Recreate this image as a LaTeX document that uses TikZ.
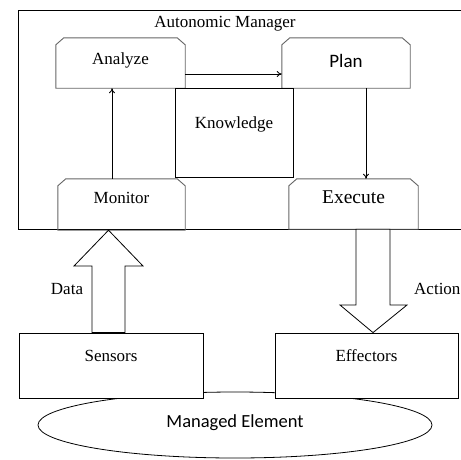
\documentclass[tikz,border=0pt]{standalone}
\usepackage{fontspec}
\setmainfont{Liberation Serif}
\newfontfamily\calfont{Carlito}
\usetikzlibrary{shapes.geometric, arrows.meta, positioning, calc}

% outline of a module box with cut top corners
\newcommand\chamfer[1]{%
  \draw[chline] (#1.south west) -- ([yshift=-7pt]#1.north west)
    -- ([xshift=8pt]#1.north west) -- ([xshift=-8pt]#1.north east)
    -- ([yshift=-7pt]#1.north east) -- (#1.south east) -- cycle;}

\tikzset{
  plainbox/.style={draw, line width=0.8pt, fill=white, inner sep=0pt, text height=12pt},
  chbox/.style={inner sep=0pt, minimum height=50pt, text height=12pt},
  chline/.style={draw=black!60, line width=0.9pt},
  conn/.style={-{To[length=5pt,width=6pt]}, line width=0.8pt},
  fat/.style={draw, line width=0.8pt, fill=white, line join=miter}
}

\begin{document}
\begin{tikzpicture}[x=1pt, y=-1pt, font=\fontsize{17}{20}\selectfont]
\clip (0,0) rectangle (461,459);
\fill[white] (0,0) rectangle (461,459);

% autonomic manager frame
\draw[line width=0.8pt] (18,10) rectangle (470,229);
\node (am) at (225,24) {Autonomic Manager};

% modules
\node[chbox, minimum width=129pt, text depth=9pt] (ana) at (120.5,63) {Analyze};
\node[chbox, minimum width=128pt, text depth=3pt, font=\calfont\fontsize{19}{22}\selectfont] (pla) at (346,63) {Plan};
\node[chbox, minimum width=127pt, minimum height=51pt, text depth=14pt] (mon) at (121.5,204.5) {Monitor};
\node[chbox, minimum width=129pt, text depth=13pt, font=\fontsize{19.5}{22}\selectfont] (exe) at (353.5,204) {Execute};
\chamfer{ana}
\chamfer{pla}
\chamfer{mon}
\chamfer{exe}

\node[plainbox, minimum width=118pt, minimum height=89pt, text depth=20pt] (kno) at (234,132.5) {Knowledge};

% loop
\draw[conn] (ana.east |- 0,74) -- (pla.west |- 0,74);
\draw[conn] (mon.north -| 112,0) -- (ana.south -| 112,0);
\draw[conn] (pla.south -| 366,0) -- (exe.north -| 366,0);

% managed element
\node[draw, ellipse, line width=0.8pt, minimum width=394pt, minimum height=66pt, inner sep=0pt, text depth=7pt, text height=12pt, font=\calfont\fontsize{18.5}{22}\selectfont] (mel) at (235,425) {Managed Element};
\node[plainbox, minimum width=184pt, minimum height=65pt, text depth=20pt] (sen) at (111,365.5) {Sensors};
\node[plainbox, minimum width=183pt, minimum height=65pt, text depth=20pt] (eff) at (366.5,365.5) {Effectors};

% touchpoint arrows
\draw[fat] (92,0 |- sen.north) -- (92,266) -- (74,266) -- (108.5,0 |- mon.south)
  -- (143,266) -- (125,266) -- (125,0 |- sen.north) -- cycle;
\draw[fat] (356,0 |- exe.south) -- (356,305) -- (340,305) -- (373,0 |- eff.north)
  -- (407,305) -- (390,305) -- (390,0 |- exe.south) -- cycle;
\node (dat) at (67,289) {Data};
\node[anchor=west, inner sep=0pt] (act) at (414,289) {Action};
\end{tikzpicture}
\end{document}
